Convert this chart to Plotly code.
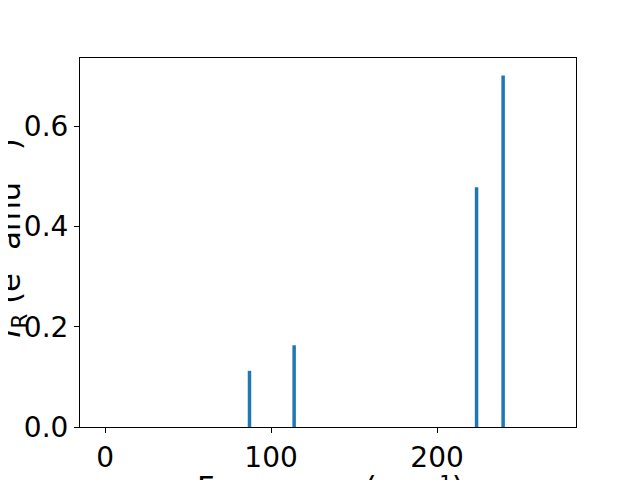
import plotly.graph_objects as go

frequencies = [87.0, 113.9, 223.8, 239.8]
intensities = [0.112, 0.163, 0.478, 0.701]
x_ticks = [0, 100, 200]
y_ticks = [0.0, 0.2, 0.4, 0.6]

FONT = "DejaVu Sans"
FS = 28
FS_LABEL = 30.6
fig = go.Figure()
fig.add_trace(go.Bar(x=frequencies, y=intensities, width=2.1,
                     marker=dict(color="#1f77b4", line=dict(width=0))))

axis_common = dict(showline=True, linecolor="black", linewidth=1, mirror=True,
                   ticks="outside", ticklen=5, tickwidth=1, tickcolor="black",
                   showgrid=False, zeroline=False,
                   tickfont=dict(family=FONT, size=FS, color="black"))
# page body has an 8px margin, so offsets are compensated in the margins
fig.update_layout(
    width=640, height=480,
    margin=dict(l=72, r=72, t=50, b=61, autoexpand=False),
    paper_bgcolor="white", plot_bgcolor="white",
    showlegend=False,
    xaxis=dict(range=[-15.1, 283.7], tickvals=x_ticks, ticktext=[str(v) for v in x_ticks],
               automargin=False, **axis_common),
    yaxis=dict(range=[0, 0.7358], tickvals=y_ticks, ticktext=[f"{v:.1f}" for v in y_ticks],
               automargin=False, **axis_common),
    annotations=[
        dict(text="Frequency (cm⁻¹)", xref="paper", yref="paper",
             x=0.5, y=0, xanchor="center", yanchor="top", yshift=-41, xshift=2,
             showarrow=False, font=dict(family=FONT, size=FS_LABEL, color="black")),
        dict(text="<i>I</i><sub>R</sub> (e<sup>2</sup> amu<sup>−1</sup>)", xref="paper", yref="paper",
             x=0, y=0.5, xanchor="right", yanchor="middle", xshift=-47, yshift=4, textangle=-90,
             showarrow=False, font=dict(family=FONT, size=FS_LABEL, color="black")),
    ],
)
fig.write_html("out.html")
